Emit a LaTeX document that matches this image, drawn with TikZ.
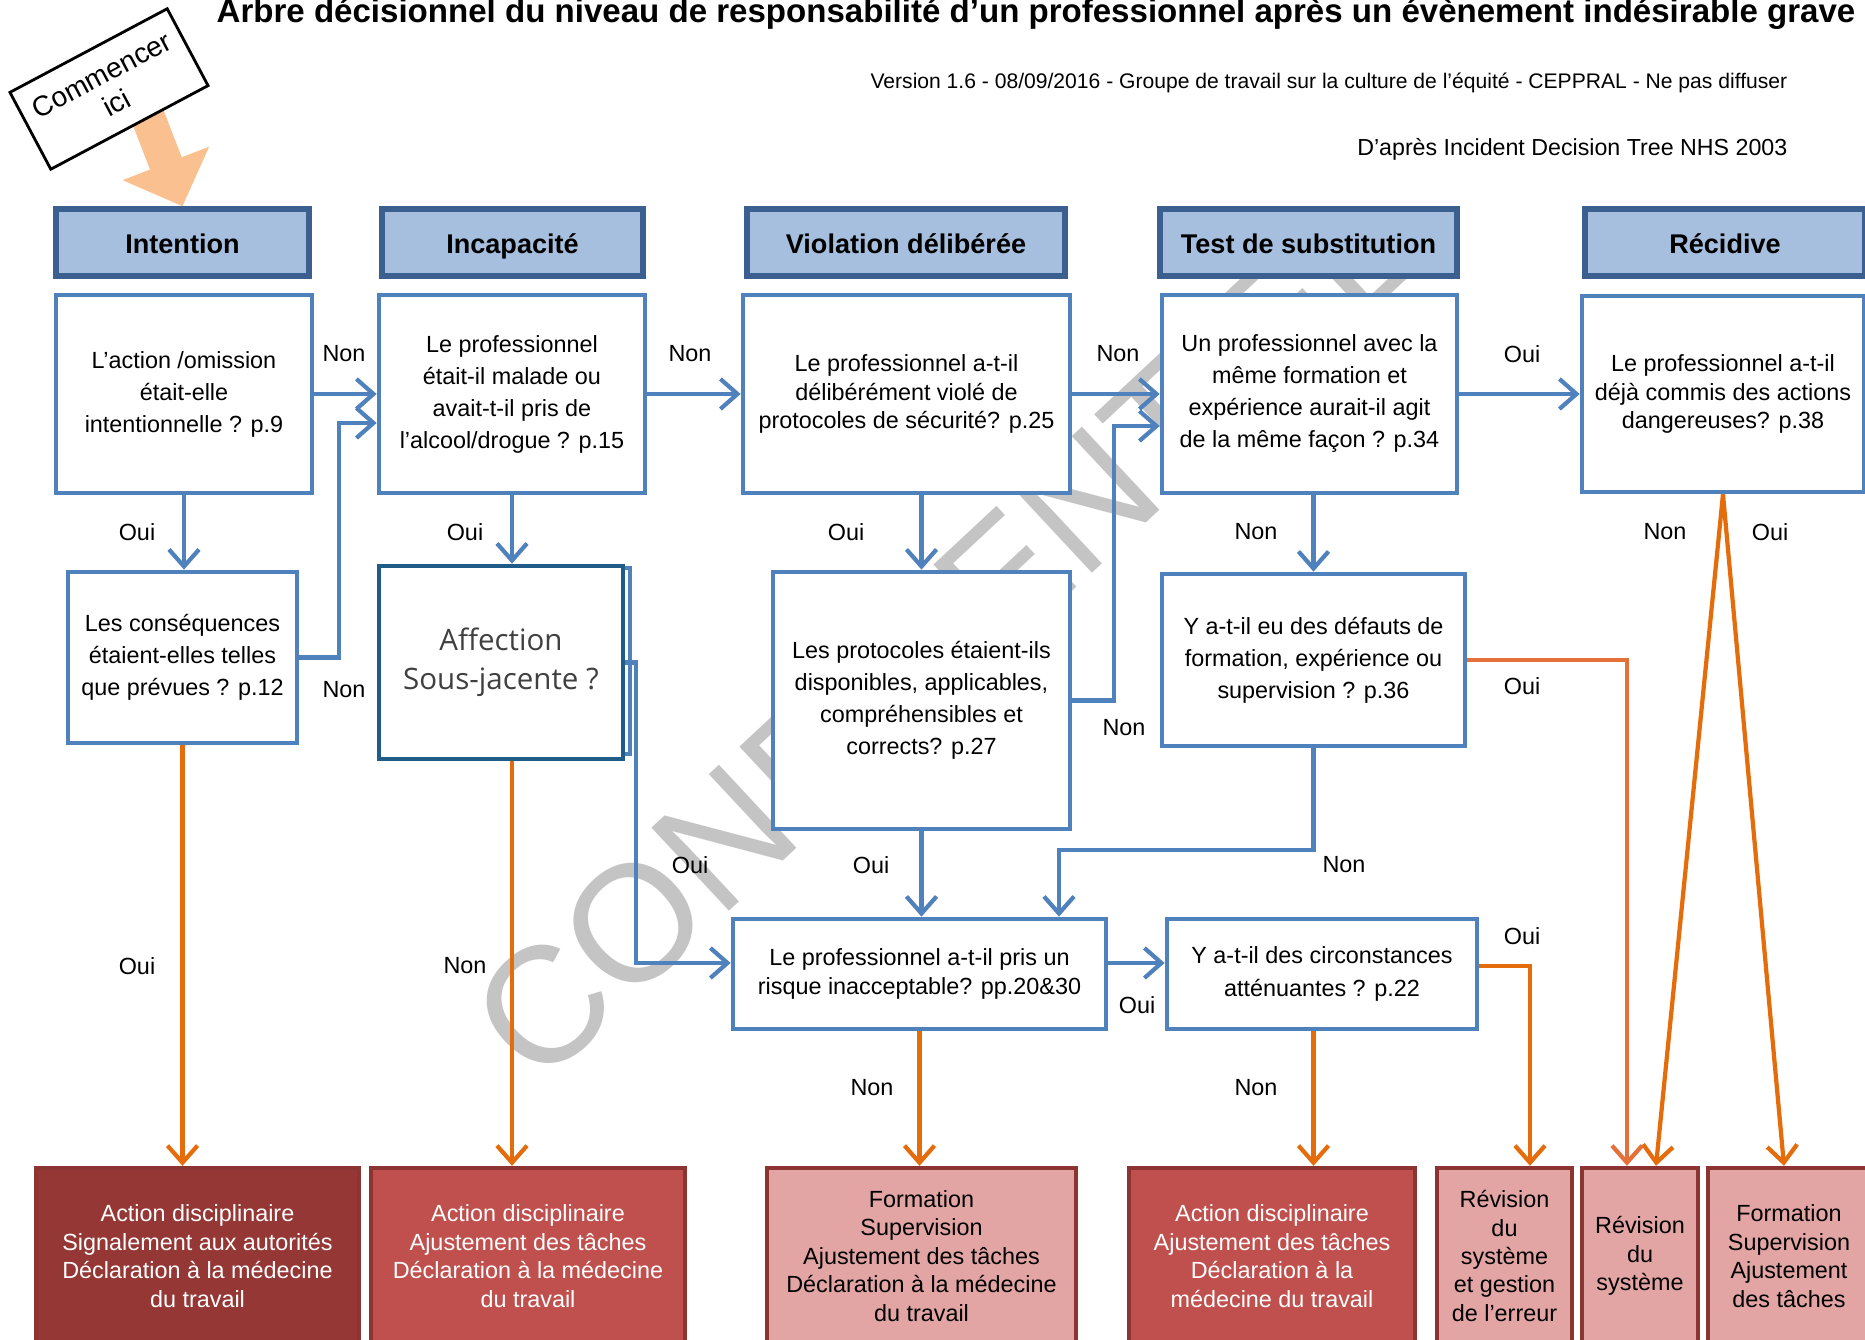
\documentclass[tikz,border=0pt]{standalone}
\usepackage{fontspec}
\setmainfont{Liberation Sans}
\newfontfamily\affont{Open Sans}
\usetikzlibrary{arrows.meta}

\definecolor{qblue}{HTML}{4F81BD}
\definecolor{hdrfill}{HTML}{A7BFDE}
\definecolor{hdrline}{HTML}{3B5F8E}
\definecolor{afline}{HTML}{1F5C87}
\definecolor{orline}{HTML}{E46C0A}
\definecolor{orsoft}{HTML}{E5703A}
\definecolor{peach}{HTML}{FAC090}
\definecolor{odark}{HTML}{953735}
\definecolor{omid}{HTML}{C0504D}
\definecolor{olight}{HTML}{E2A5A4}
\definecolor{oline}{HTML}{8C3432}
\definecolor{wmark}{HTML}{C4C4C4}

\tikzset{
  hdr/.style={draw=hdrline, fill=hdrfill, line width=1.5pt, inner sep=0pt,
    minimum height=0.67cm, text height=1.6ex, text depth=0.45ex,
    font=\fontsize{7.7}{9}\selectfont\bfseries},
  qbox/.style={draw=qblue, fill=white, line width=1.3pt, inner sep=0pt,
    align=center, font=\fontsize{6.65}{9.1}\selectfont},
  obox/.style={draw=oline, line width=1.2pt, inner sep=0pt, align=center,
    minimum height=1.76cm, font=\fontsize{6.65}{8.1}\selectfont},
  lbl/.style={font=\fontsize{6.65}{8}\selectfont, inner sep=0pt},
  bluearr/.style={draw=qblue, line width=1.2pt, -{Straight Barb[length=1.7mm,width=3mm]}},
  orarr/.style={draw=orline, line width=1.2pt, -{Straight Barb[length=1.7mm,width=3mm]}},
  startarr/.style={draw=peach, line width=0.34cm, -{Triangle[length=0.46cm,width=0.9cm]}},
  wmk/.style={anchor=base west, rotate=43, text=wmark, inner sep=0pt,
    font=\fontsize{47}{47}\selectfont}
}

\begin{document}
\begin{tikzpicture}[x=0.01cm, y=-0.01cm]
\useasboundingbox (0,0) rectangle (1865,1340);

% filigrane
\node[wmk] (wm) at (538,1090) {CONFIDENTIEL};

% titres
\node[anchor=east, inner sep=0pt, font=\fontsize{9.4}{11}\selectfont\bfseries] (title) at (1856,14)
  {Arbre décisionnel du niveau de responsabilité d'un professionnel après un évènement indésirable grave};
\node[anchor=east, inner sep=0pt, font=\fontsize{6}{7}\selectfont] (vers) at (1788,83)
  {Version 1.6 - 08/09/2016 - Groupe de travail sur la culture de l'équité - CEPPRAL - Ne pas diffuser};
\node[anchor=east, inner sep=0pt, font=\fontsize{6.6}{8}\selectfont] (src) at (1788,149)
  {D'après Incident Decision Tree NHS 2003};

% colonnes
\node[hdr, minimum width=2.53cm] (hint) at (182.5,242.5) {Intention};
\node[hdr, minimum width=2.61cm] (hinc) at (512.5,242.5) {Incapacité};
\node[hdr, minimum width=3.18cm] (hvio) at (906,242.5) {Violation délibérée};
\node[hdr, minimum width=2.97cm] (htest) at (1308.5,242.5) {Test de substitution};
\node[hdr, minimum width=2.80cm] (hrec) at (1725,242.5) {Récidive};

% depart
\coordinate (go) at (146,112);
\draw[startarr] (go) -- (hint.north);
\node[draw, fill=white, line width=0.8pt, rotate=28, minimum width=1.78cm, minimum height=0.87cm,
  inner sep=0pt, align=center, font=\fontsize{8}{9}\selectfont] (start) at (109,89) {Commencer\\ici};

% questions
\node[qbox, minimum width=2.56cm, minimum height=1.98cm] (q1) at (184,394)
  {L’action /omission\\était-elle\\intentionnelle ? p.9};
\node[qbox, minimum width=2.66cm, minimum height=1.98cm] (q2) at (512,394)
  {Le professionnel\\était-il malade ou\\avait-t-il pris de\\l’alcool/drogue ? p.15};
\node[qbox, minimum width=3.27cm, minimum height=1.98cm, font=\fontsize{6.65}{8.1}\selectfont] (q3) at (906.5,394)
  {Le professionnel a-t-il\\délibérément violé de\\protocoles de sécurité? p.25};
\node[qbox, minimum width=2.95cm, minimum height=1.98cm] (q4) at (1309.5,394)
  {Un professionnel avec la\\même formation et\\expérience aurait-il agit\\de la même façon ? p.34};
\node[qbox, minimum width=2.82cm, minimum height=1.96cm, font=\fontsize{6.65}{8.1}\selectfont] (q5) at (1723,394)
  {Le professionnel a-t-il\\déjà commis des actions\\dangereuses? p.38};
\node[qbox, minimum width=2.29cm, minimum height=1.71cm] (q6) at (182.5,657.5)
  {Les conséquences\\étaient-elles telles\\que prévues ? p.12};
\node[qbox, minimum width=2.50cm, minimum height=1.86cm] (q7b) at (505,661) {};
\node[qbox, draw=afline, minimum width=2.44cm, minimum height=1.93cm, text=black!75,
  font=\affont\fontsize{8.4}{11.2}\selectfont] (q7) at (501,662.5)
  {Affection\\Sous-jacente ?};
\node[qbox, minimum width=2.97cm, minimum height=2.57cm] (q8) at (921.5,700.5)
  {Les protocoles étaient-ils\\disponibles, applicables,\\compréhensibles et\\corrects? p.27};
\node[qbox, minimum width=3.03cm, minimum height=1.72cm] (q9) at (1313.5,660)
  {Y a-t-il eu des défauts de\\formation, expérience ou\\supervision ? p.36};
\node[qbox, minimum width=3.73cm, minimum height=1.10cm, font=\fontsize{6.65}{8.5}\selectfont] (q10) at (919.5,974)
  {Le professionnel a-t-il pris un\\risque inacceptable? pp.20\&30};
\node[qbox, minimum width=3.10cm, minimum height=1.10cm, font=\fontsize{6.65}{9.5}\selectfont] (q11) at (1322,974)
  {Y a-t-il des circonstances\\atténuantes ? p.22};

% issues
\node[obox, fill=odark, text=white, minimum width=3.23cm] (o1) at (197.5,1256)
  {Action disciplinaire\\Signalement aux autorités\\Déclaration à la médecine\\du travail};
\node[obox, fill=omid, text=white, minimum width=3.14cm] (o2) at (528,1256)
  {Action disciplinaire\\Ajustement des tâches\\Déclaration à la médecine\\du travail};
\node[obox, fill=olight, minimum width=3.09cm] (o3) at (921.5,1256)
  {Formation\\Supervision\\Ajustement des tâches\\Déclaration à la médecine\\du travail};
\node[obox, fill=omid, text=white, minimum width=2.86cm] (o4) at (1272,1256)
  {Action disciplinaire\\Ajustement des tâches\\Déclaration à la\\médecine du travail};
\node[obox, fill=olight, minimum width=1.35cm] (o5) at (1504.5,1256)
  {Révision\\du\\système\\et gestion\\de l’erreur};
\node[obox, fill=olight, minimum width=1.16cm] (o6) at (1640,1256)
  {Révision\\du\\système};
\node[obox, fill=olight, minimum width=1.62cm] (o7) at (1789,1256)
  {Formation\\Supervision\\Ajustement\\des tâches};

% liens bleus
\draw[bluearr] (q1.east) -- (q1.east -| q2.west);
\coordinate (k6) at (339,423);
\draw[bluearr] (q6.east) -| (k6) -- (k6 -| q2.west);
\draw[bluearr] (q1.south) -- (q1.south |- q6.north);
\draw[bluearr] (q2.east) -- (q2.east -| q3.west);
\draw[bluearr] (q2.south) -- (q2.south |- q7.north);
\draw[bluearr] (q3.east) -- (q3.east -| q4.west);
\coordinate (k8) at (1114,426);
\draw[bluearr] (q8.east) -| (k8) -- (k8 -| q4.west);
\draw[bluearr] (q8.north |- q3.south) -- (q8.north);
\draw[bluearr] (q4.east) -- (q4.east -| q5.west);
\draw[bluearr] (q9.north |- q4.south) -- (q9.north);
\coordinate (k7) at (636,963);
\draw[bluearr] (q7.east) -| (k7) -- (k7 -| q10.west);
\draw[bluearr] (q8.south) -- (q8.south |- q10.north);
\coordinate (k9) at (1059,850);
\draw[bluearr] (q9.south) |- (k9) -- (k9 |- q10.north);
\draw[bluearr] (k7 -| q10.east) -- (k7 -| q11.west);

% liens orange
\draw[orarr] (q6.south) -- (q6.south |- o1.north);
\draw[orarr] (q2.south |- q7.south) -- (q2.south |- o2.north);
\draw[orarr] (q10.south) -- (q10.south |- o3.north);
\draw[orarr] (q9.south |- q11.south) -- (q9.south |- o4.north);
\coordinate (k11) at (1530,966);
\draw[orarr] (k11 -| q11.east) -| (k11 |- o5.north);
\coordinate (k10) at (1627,662);
\draw[orarr, draw=orsoft] (q9.east) -| (k10 |- o6.north);
\draw[orarr] (q5.south) -- ([xshift=0.16cm]o6.north);
\draw[orarr] (q5.south) -- ([xshift=-0.05cm]o7.north);

% etiquettes
\node[lbl] (l1) at (344,354) {Non};
\node[lbl] (l2) at (344,690) {Non};
\node[lbl] (l3) at (137,532) {Oui};
\node[lbl] (l4) at (690,354) {Non};
\node[lbl] (l5) at (465,532) {Oui};
\node[lbl] (l6) at (1118,354) {Non};
\node[lbl] (l7) at (1124,728) {Non};
\node[lbl] (l8) at (846,532) {Oui};
\node[lbl] (l9) at (1522,354) {Oui};
\node[lbl] (l10) at (1256,532) {Non};
\node[lbl] (l11) at (690,865) {Oui};
\node[lbl] (l12) at (871,865) {Oui};
\node[lbl] (l13) at (1344,865) {Non};
\node[lbl] (l14) at (1137,1005) {Oui};
\node[lbl] (l15) at (137,966) {Oui};
\node[lbl] (l16) at (465,966) {Non};
\node[lbl] (l17) at (872,1088) {Non};
\node[lbl] (l18) at (1256,1088) {Non};
\node[lbl] (l19) at (1522,936) {Oui};
\node[lbl] (l20) at (1522,686) {Oui};
\node[lbl] (l21) at (1665,532) {Non};
\node[lbl] (l22) at (1770,532) {Oui};
\end{tikzpicture}
\end{document}
